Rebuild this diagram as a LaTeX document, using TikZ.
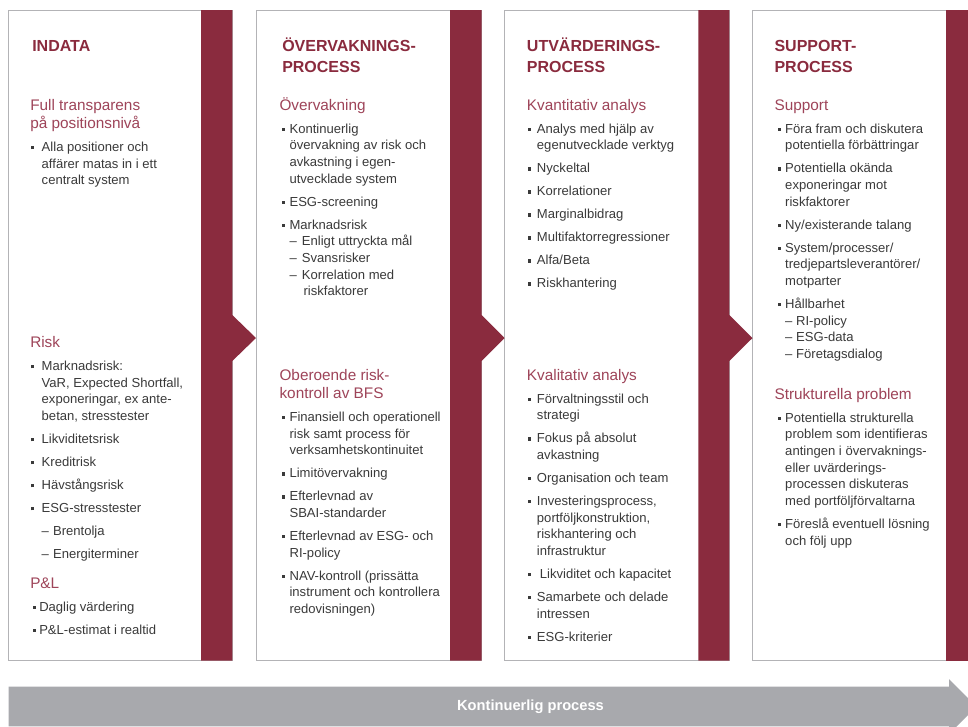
\documentclass[tikz,border=0pt]{standalone}
\usepackage{fontspec}
\setmainfont{Liberation Sans}
\definecolor{maroon}{HTML}{8A2B3E}
\definecolor{subred}{HTML}{9E4459}
\definecolor{bodytxt}{HTML}{3A3A3A}
\definecolor{boxgray}{HTML}{B3B3B6}
\definecolor{arrowgray}{HTML}{A8A9AD}
\newlength\bulx
\newlength\txtx
\newlength\igap
\setlength\igap{4.75pt}
\newcommand\bul{\raisebox{1.6pt}{\rule{2.3pt}{2.3pt}}}
\newcommand\subh[1]{\noindent{\color{subred}\fontsize{11.5pt}{13.75pt}\selectfont #1\par}}
\newcommand\itm[1]{\par\vspace{\igap}\noindent\hangindent=\txtx\hangafter=1\hspace*{\bulx}\makebox[\dimexpr\txtx-\bulx\relax][l]{\bul}#1}
\newcommand\ditm[1]{\par\vspace{\igap}\noindent\hspace*{\txtx}\makebox[8.5pt][l]{–}#1}
\newcommand\dsh[1]{\makebox[#1][l]{–}}
\newcommand\bodyfont{\fontsize{9.8pt}{12.5pt}\selectfont}
\newcommand\titlefont{\fontsize{12pt}{15.75pt}\selectfont\bfseries}
\tikzset{
  colbox/.style={draw=boxgray, line width=0.75pt, fill=white},
  band/.style={fill=maroon, draw=none},
  ttl/.style={anchor=base west, inner sep=0pt, text=maroon},
  sect/.style={anchor=base west, inner sep=0pt, text=bodytxt},
  barlabel/.style={inner sep=0pt, text=white, font=\bfseries\fontsize{11pt}{13pt}\selectfont}
}
\begin{document}
\begin{tikzpicture}[x=0.75pt,y=-0.75pt]
\clip (0,0) rectangle (968,726);
\fill[white] (0,0) rectangle (968,726);

% column boxes
\draw[colbox] (8,10) rectangle (232.3,660.7);
\draw[colbox] (256,10) rectangle (481.7,660.7);
\draw[colbox] (504,10) rectangle (729.3,660.7);
\draw[colbox] (752.3,10) rectangle (985,660.7);

% maroon bands with chevrons
\fill[band] (201,10) -- (232.3,10) -- (232.3,315) -- (256,338) -- (232.3,361) -- (232.3,660.7) -- (201,660.7) -- cycle;
\fill[band] (450,10) -- (481.7,10) -- (481.7,315) -- (504.5,338) -- (481.7,361) -- (481.7,660.7) -- (450,660.7) -- cycle;
\fill[band] (698.3,10) -- (729.3,10) -- (729.3,315) -- (752.5,338) -- (729.3,361) -- (729.3,660.7) -- (698.3,660.7) -- cycle;
\fill[band] (946,10) rectangle (985,660.7);

% bottom arrow
\fill[arrowgray] (8.7,686.7) -- (949,686.7) -- (949,679) -- (976.5,706.5) -- (949,734) -- (949,726.3) -- (8.7,726.3) -- cycle;
\node[barlabel] (kp) at (530.5,706.5) {Kontinuerlig process};

% titles
\node[ttl] (t1) at (32,51.7) {\begin{minipage}[t]{160pt}\titlefont INDATA\end{minipage}};
\node[ttl] (t2) at (282,51.7) {\begin{minipage}[t]{160pt}\titlefont ÖVERVAKNINGS-\\PROCESS\end{minipage}};
\node[ttl] (t3) at (526.7,51.7) {\begin{minipage}[t]{160pt}\titlefont UTVÄRDERINGS-\\PROCESS\end{minipage}};
\node[ttl] (t4) at (774.3,51.7) {\begin{minipage}[t]{160pt}\titlefont SUPPORT-\\PROCESS\end{minipage}};

% column 1
\node[sect] (c1a) at (30,110) {\begin{minipage}[t]{170pt}\bodyfont
\setlength\bulx{0.75pt}\setlength\txtx{8.6pt}%
\subh{Full transparens\\på positionsnivå}%
\itm{Alla positioner och\\affärer matas in i ett\\centralt system}
\end{minipage}};

\node[sect] (c1b) at (30,347.5) {\begin{minipage}[t]{170pt}\bodyfont
\setlength\bulx{0.75pt}\setlength\txtx{8.6pt}%
\subh{Risk}%
\itm{Marknadsrisk:\\VaR, Expected Shortfall,\\exponeringar, ex ante-\\betan, stresstester}%
\itm{Likviditetsrisk}%
\itm{Kreditrisk}%
\itm{Hävstångsrisk}%
\itm{ESG-stresstester}%
\ditm{Brentolja}%
\ditm{Energiterminer}
\end{minipage}};

\node[sect] (c1c) at (30,588) {\begin{minipage}[t]{170pt}\bodyfont
\setlength\bulx{2.25pt}\setlength\txtx{6.75pt}%
\subh{P\&L}%
\itm{Daglig värdering}%
\itm{P\&L-estimat i realtid}
\end{minipage}};

% column 2
\node[sect] (c2a) at (279.3,110) {\begin{minipage}[t]{170pt}\bodyfont
\setlength\bulx{1.8pt}\setlength\txtx{7.5pt}%
\subh{Övervakning}%
\itm{Kontinuerlig\\övervakning av risk och\\avkastning i egen-\\utvecklade system}%
\itm{ESG-screening}%
\itm{Marknadsrisk\\\dsh{9.3pt}Enligt uttryckta mål\\\dsh{9.3pt}Svansrisker\\\dsh{9.3pt}Korrelation med\\\hspace*{10.5pt}riskfaktorer}
\end{minipage}};

\node[sect] (c2b) at (279.3,380) {\begin{minipage}[t]{170pt}\bodyfont
\setlength\bulx{1.8pt}\setlength\txtx{7.5pt}%
\subh{Oberoende risk-\\kontroll av BFS}%
\itm{Finansiell och operationell\\risk samt process för\\verksamhetskontinuitet}%
\itm{Limitövervakning}%
\itm{Efterlevnad av\\SBAI-standarder}%
\itm{Efterlevnad av ESG- och\\RI-policy}%
\itm{NAV-kontroll (prissätta\\instrument och kontrollera\\redovisningen)}
\end{minipage}};

% column 3
\node[sect] (c3a) at (526.7,110) {\begin{minipage}[t]{170pt}\bodyfont
\setlength\bulx{0.5pt}\setlength\txtx{7.5pt}%
\subh{Kvantitativ analys}%
\itm{Analys med hjälp av\\egenutvecklade verktyg}%
\itm{Nyckeltal}%
\itm{Korrelationer}%
\itm{Marginalbidrag}%
\itm{Multifaktorregressioner}%
\itm{Alfa/Beta}%
\itm{Riskhantering}
\end{minipage}};

\node[sect] (c3b) at (526.7,380) {\begin{minipage}[t]{170pt}\bodyfont
\setlength\bulx{0.5pt}\setlength\txtx{7.5pt}%
\subh{Kvalitativ analys}%
\itm{Förvaltningsstil och\\strategi}%
\itm{Fokus på absolut\\avkastning}%
\itm{Organisation och team}%
\itm{Investeringsprocess,\\portföljkonstruktion,\\riskhantering och\\infrastruktur}%
\itm{\hspace*{2.2pt}Likviditet och kapacitet}%
\itm{Samarbete och delade\\intressen}%
\itm{ESG-kriterier}
\end{minipage}};

% column 4
\node[sect] (c4a) at (774.3,110) {\begin{minipage}[t]{170pt}\bodyfont
\setlength\bulx{2.3pt}\setlength\txtx{8pt}%
\subh{Support}%
\itm{Föra fram och diskutera\\potentiella förbättringar}%
\itm{Potentiella okända\\exponeringar mot\\riskfaktorer}%
\itm{Ny/existerande talang}%
\itm{System/processer/\\tredjepartsleverantörer/\\motparter}%
\itm{Hållbarhet\\\dsh{8.2pt}RI-policy\\\dsh{8.2pt}ESG-data\\\dsh{8.2pt}Företagsdialog}
\end{minipage}};

\node[sect] (c4b) at (774.3,399) {\begin{minipage}[t]{170pt}\bodyfont
\setlength\bulx{2.3pt}\setlength\txtx{8pt}%
\subh{Strukturella problem}%
\itm{Potentiella strukturella\\problem som identifieras\\antingen i övervaknings-\\eller uvärderings-\\processen diskuteras\\med portföljförvaltarna}%
\itm{Föreslå eventuell lösning\\och följ upp}
\end{minipage}};
\end{tikzpicture}
\end{document}
